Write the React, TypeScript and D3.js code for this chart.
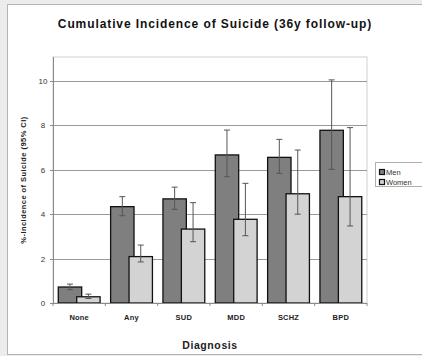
import React from "react";
import * as d3 from "d3";

// Diagnostic groups along the x axis
const categories = ["None", "Any", "SUD", "MDD", "SCHZ", "BPD"];

// Cumulative incidence (%) with 95% CI bounds
const menValues = [0.72, 4.34, 4.69, 6.67, 6.56, 7.78];
const menLower = [0.6, 3.93, 4.22, 5.69, 5.84, 6.02];
const menUpper = [0.85, 4.79, 5.22, 7.79, 7.37, 10.05];

const womenValues = [0.28, 2.09, 3.33, 3.77, 4.92, 4.79];
const womenLower = [0.2, 1.85, 2.76, 3.03, 4.0, 3.47];
const womenUpper = [0.4, 2.61, 4.52, 5.39, 6.89, 7.9];

const yTicks = [0, 2, 4, 6, 8, 10];
const seriesNames = ["Men", "Women"];

const W = 422;
const H = 356;
const plotLeft = 53;
const plotRight = 367;
const plotBottom = 303;
const plotTop = 57;

const menColor = "#7f7f7f";
const womenColor = "#d3d3d3";
const font = "'Liberation Sans', Arial, sans-serif";

export default function App() {
  const x = d3.scaleBand<string>().domain(categories).range([plotLeft, plotRight]).padding(0);
  const y = d3.scaleLinear().domain([0, 10]).range([plotBottom, 81]);
  const bw = x.bandwidth();
  const barW = bw * 0.447;
  const menOff = bw * 0.101;
  const womenOff = bw * 0.453;

  const series = [
    { name: seriesNames[0], vals: menValues, lo: menLower, hi: menUpper, off: menOff, color: menColor },
    { name: seriesNames[1], vals: womenValues, lo: womenLower, hi: womenUpper, off: womenOff, color: womenColor },
  ];

  return (
    <div style={{ position: "absolute", left: 0, top: 0 }}>
      <svg width={W} height={H} style={{ display: "block", fontFamily: font }}>
        <rect x={0} y={0} width={W} height={H} fill="#ececec" />
        <rect x={7.5} y={4.5} width={W} height={350} fill="#ffffff" stroke="#b4b4b4" strokeWidth={1} />

        <text x={215} y={28} textAnchor="middle" fontSize={12} fontWeight="bold" fill="#111" letterSpacing={0.9}>
          Cumulative Incidence of Suicide (36y follow-up)
        </text>

        {/* plot area frame */}
        <rect x={plotLeft} y={plotTop} width={plotRight - plotLeft} height={plotBottom - plotTop}
          fill="none" stroke="#d0d0d0" strokeWidth={1} />

        {/* gridlines */}
        {yTicks.filter((t) => t > 0).map((t) => (
          <line key={t} x1={plotLeft} x2={plotRight} y1={Math.round(y(t)) + 0.5} y2={Math.round(y(t)) + 0.5}
            stroke="#9a9a9a" strokeWidth={1} />
        ))}

        {/* y axis */}
        <line x1={plotLeft + 0.5} x2={plotLeft + 0.5} y1={plotTop} y2={plotBottom} stroke="#8a8a8a" />
        {yTicks.map((t) => (
          <g key={t}>
            <line x1={plotLeft - 3} x2={plotLeft} y1={Math.round(y(t)) + 0.5} y2={Math.round(y(t)) + 0.5} stroke="#8a8a8a" />
            <text x={plotLeft - 10} y={y(t) + 3} textAnchor="middle" fontSize={8} fill="#333">{t}</text>
          </g>
        ))}
        <text transform={`translate(26,${(plotTop + plotBottom) / 2}) rotate(-90)`} textAnchor="middle"
          fontSize={7.5} fontWeight="bold" fill="#222" letterSpacing={0.45}>
          %-Incidence of Suicide (95% CI)
        </text>

        {/* bars */}
        {series.map((s) =>
          categories.map((c, i) => (
            <rect key={s.name + c} x={(x(c) ?? 0) + s.off} y={y(s.vals[i])} width={barW}
              height={plotBottom - y(s.vals[i])} fill={s.color} stroke="#111" strokeWidth={1.3} />
          ))
        )}

        {/* error bars */}
        {series.map((s) =>
          categories.map((c, i) => {
            const cx = (x(c) ?? 0) + s.off + barW / 2;
            return (
              <g key={"e" + s.name + c} stroke="#555" strokeWidth={1}>
                <line x1={cx} x2={cx} y1={y(s.hi[i])} y2={y(s.lo[i])} />
                <line x1={cx - 3} x2={cx + 3} y1={y(s.hi[i])} y2={y(s.hi[i])} />
                <line x1={cx - 3} x2={cx + 3} y1={y(s.lo[i])} y2={y(s.lo[i])} />
              </g>
            );
          })
        )}

        {/* x axis */}
        <line x1={plotLeft} x2={plotRight} y1={plotBottom + 0.5} y2={plotBottom + 0.5} stroke="#8a8a8a" />
        {categories.concat([""]).map((c, i) => {
          const xx = plotLeft + i * bw;
          return <line key={"t" + i} x1={xx} x2={xx} y1={plotBottom} y2={plotBottom + 3} stroke="#8a8a8a" />;
        })}
        {categories.map((c) => (
          <text key={"l" + c} x={(x(c) ?? 0) + bw / 2} y={319.5} textAnchor="middle" fontSize={7.5}
            fontWeight="bold" fill="#222" letterSpacing={0.2}>{c}</text>
        ))}
        <text x={(plotLeft + plotRight) / 2} y={348.5} textAnchor="middle" fontSize={10.5} fontWeight="bold" fill="#222"
          letterSpacing={0.6}>
          Diagnosis
        </text>

        {/* legend */}
        <rect x={375.5} y={162.5} width={60} height={24} fill="#fff" stroke="#b0b0b0" />
        {series.map((s, i) => (
          <g key={"lg" + s.name}>
            <rect x={379.5} y={169.5 + i * 10} width={5} height={5} fill={s.color} stroke="#111" strokeWidth={1.2} />
            <text x={386} y={175 + i * 10} fontSize={7.5} fill="#333">{s.name}</text>
          </g>
        ))}
      </svg>
    </div>
  );
}
